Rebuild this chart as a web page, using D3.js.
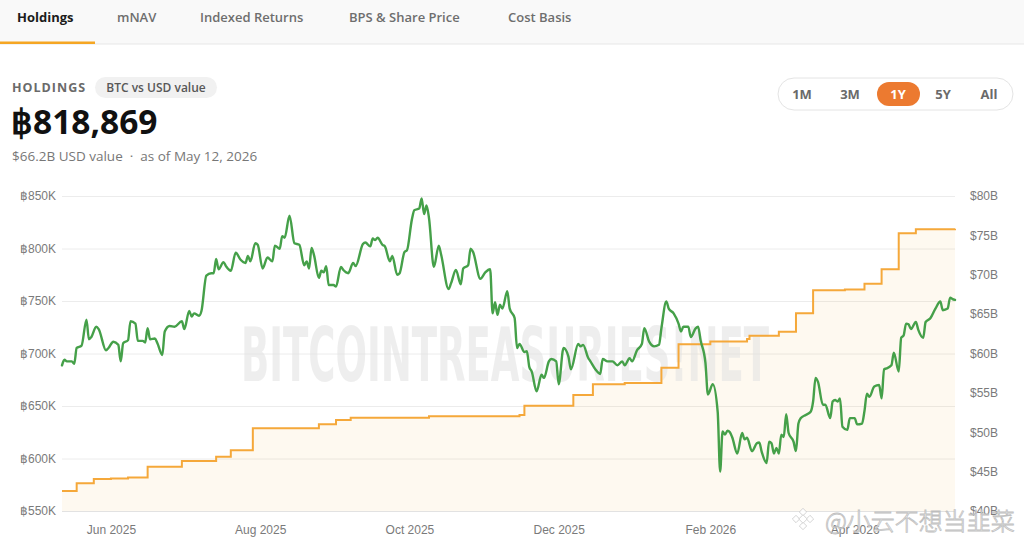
<!DOCTYPE html>
<html>
<head>
<meta charset="utf-8">
<script src="https://cdn.jsdelivr.net/npm/d3@7/dist/d3.min.js"></script>
<style>
  html, body { margin: 0; padding: 0; background: #ffffff; }
  svg { display: block; }
</style>
</head>
<body>
<svg id="chart" width="1024" height="545"></svg>
<script>
// ---------------- DATA ----------------
const START_DATE = "2025-05-12";
const END_DATE = "2026-05-12";

// USD value of holdings ($B), days since START_DATE
const priceDays = [0,1,2,4,5,6,8,10,11,12,14,15,18,19,21,23,24,25,27,28,30,31,33,34,35,36,38,39,41,42,44,46,49,50,52,53,54,56,57,59,61,62,63,64,66,67,69,71,73,75,76,77,79,80,82,84,86,87,89,90,91,93,95,97,99,100,101,102,103,105,106,107,108,109,111,112,114,115,117,119,120,123,124,126,127,128,129,131,132,134,135,137,138,140,141,143,144,146,147,148,149,150,152,154,155,158,159,161,163,164,166,167,168,171,173,175,176,177,178,179,180,182,183,185,186,187,189,190,191,192,194,196,197,199,200,202,203,205,207,208,211,212,213,215,216,218,220,221,223,225,227,229,230,232,233,235,237,238,240,242,244,245,247,248,250,252,253,254,256,257,259,260,261,263,264,266,268,269,270,271,272,273,274,276,278,279,280,282,284,285,286,288,289,290,291,292,293,294,295,296,297,299,300,301,302,304,306,307,308,309,311,312,314,315,316,317,318,319,321,322,324,325,327,328,329,330,332,334,335,336,337,339,340,342,343,344,345,346,347,349,350,352,353,355,357,359,360,362,363,364,365];
const usdValue = [58.5,59.2,59.0,59.0,58.7,60.7,61.0,64.3,61.8,62.1,63.4,63.1,60.4,60.7,61.5,61.1,59.0,61.3,61.7,64.1,63.8,61.6,61.6,61.4,63.2,61.8,61.9,61.3,59.8,62.8,63.5,63.4,64.1,63.1,65.4,64.7,65.1,64.8,65.4,69.9,70.2,70.2,72.0,70.7,71.6,71.1,70.5,72.8,71.9,71.5,72.4,71.7,74.0,73.8,70.8,72.2,71.7,73.7,73.3,74.9,74.7,77.5,74.0,73.8,71.2,71.7,70.8,73.4,72.5,69.6,70.5,70.3,71.1,68.7,68.7,68.5,71.0,70.6,70.2,71.5,71.1,73.9,74.1,73.6,74.6,74.4,74.7,73.8,73.6,71.7,72.4,70.0,70.2,72.9,73.1,77.0,78.2,78.4,79.7,77.7,78.8,77.2,71.0,73.7,72.5,68.2,68.9,70.6,68.8,70.8,71.2,73.3,72.9,69.5,70.3,70.7,65.1,66.5,64.9,66.2,65.7,67.9,65.7,64.5,60.7,61.2,60.2,60.3,58.3,57.7,55.2,57.3,56.9,59.0,59.3,59.0,56.1,60.7,59.6,58.0,61.2,60.9,61.1,59.5,59.0,58.0,57.4,59.3,59.0,59.0,58.5,59.0,58.5,59.4,59.0,60.4,61.2,63.2,61.5,60.9,61.1,63.2,66.6,65.7,65.1,63.8,62.8,63.4,63.4,62.1,63.2,63.4,61.7,58.8,54.8,56.1,52.6,45.0,50.1,49.7,50.2,50.0,49.3,47.3,49.9,49.1,49.3,47.6,48.6,48.7,47.5,46.1,48.8,48.6,47.3,48.0,47.3,49.7,49.4,52.3,49.9,48.8,47.6,51.1,51.8,52.2,52.6,53.9,56.9,56.4,53.5,53.5,51.8,53.9,54.1,53.9,54.3,50.7,50.3,51.8,51.8,51.0,51.1,52.7,54.9,54.5,55.8,56.0,54.3,58.0,58.1,58.5,60.1,57.7,62.0,62.3,63.8,63.7,63.1,64.0,63.0,62.0,64.0,64.5,65.7,66.6,65.5,65.7,67.1,66.9,66.8];

// BTC holdings (thousands of BTC), days since START_DATE
const holdDays = [0,6,13,20,27,35,49,63,69,78,105,112,118,150,187,189,209,217,230,245,252,265,280,281,293,300,307,320,328,335,342,349,365];
const holdBTC  = [569.0,576.4,580.5,581.0,582.0,592.2,597.6,601.7,607.8,628.7,632.6,636.7,638.9,640.2,641.4,650.3,660.5,670.7,672.0,686.5,708.8,711.5,713.8,717.0,720.8,738.3,760.2,761.0,766.5,780.2,814.5,818.3,818.9];

const leftTicks  = [550, 600, 650, 700, 750, 800, 850];
const rightTicks = [40, 45, 50, 55, 60, 65, 70, 75, 80];
const monthTicks = ["2025-06-01","2025-08-01","2025-10-01","2025-12-01","2026-02-01","2026-04-01"];

const tabs = ["Holdings", "mNAV", "Indexed Returns", "BPS & Share Price", "Cost Basis"];
const ranges = ["1M", "3M", "1Y", "5Y", "All"];

// ---------------- LAYOUT ----------------
const svg = d3.select("#chart");
const M = { left: 62, right: 955, top: 196, bottom: 511 };
const parse = d3.timeParse("%Y-%m-%d");
const start = parse(START_DATE);
const dayToDate = d => d3.timeDay.offset(start, d);

const x = d3.scaleTime().domain([start, parse(END_DATE)]).range([M.left, M.right]);
const yL = d3.scaleLinear().domain([550, 850]).range([M.bottom, M.top]);
const yR = d3.scaleLinear().domain([40, 80]).range([M.bottom, M.top]);

const UI = "'Open Sans', 'Noto Sans', sans-serif";
const AX = "'Liberation Sans', Arial, sans-serif";

// ---------------- HEADER ----------------
svg.append("rect").attr("x", 0).attr("y", 0).attr("width", 1024).attr("height", 44).attr("fill", "#f9f9f9");
svg.append("rect").attr("x", 0).attr("y", 43.5).attr("width", 1024).attr("height", 1).attr("fill", "#e8e8e8");
const tabX = [17, 117, 200, 349, 508];
tabs.forEach((t, i) => {
  svg.append("text").attr("x", tabX[i]).attr("y", 22)
    .attr("font-family", UI).attr("font-size", 13).attr("font-weight", i === 0 ? 700 : 600)
    .attr("fill", i === 0 ? "#1c1c1c" : "#6e6e6e").text(t);
});
svg.append("rect").attr("x", 0).attr("y", 41.5).attr("width", 95).attr("height", 2.5).attr("fill", "#f5a623");

svg.append("text").attr("x", 12).attr("y", 92).attr("font-family", UI).attr("font-size", 12.5)
  .attr("font-weight", 700).attr("letter-spacing", 1).attr("fill", "#6a6a6a").text("HOLDINGS");
svg.append("rect").attr("x", 95).attr("y", 77).attr("width", 122).attr("height", 21).attr("rx", 10.5).attr("fill", "#f1f1f1");
svg.append("text").attr("x", 156).attr("y", 92).attr("text-anchor", "middle").attr("font-family", UI)
  .attr("font-size", 12).attr("font-weight", 600).attr("fill", "#585858").text("BTC vs USD value");

svg.append("text").attr("x", 11).attr("y", 134).attr("font-family", UI).attr("font-size", 33.5)
  .attr("font-weight", 700).attr("fill", "#111").text("฿818,869");
svg.append("text").attr("x", 12).attr("y", 161).attr("font-family", UI).attr("font-size", 13.5)
  .style("white-space", "pre")
  .attr("fill", "#777").text("$66.2B USD value  ·  as of May 12, 2026");

svg.append("rect").attr("x", 778).attr("y", 78).attr("width", 235).attr("height", 32).attr("rx", 16)
  .attr("fill", "#fff").attr("stroke", "#e4e4e4");
svg.append("rect").attr("x", 877).attr("y", 82).attr("width", 43).attr("height", 24).attr("rx", 12).attr("fill", "#ec7a30");
const rangeX = [802, 850, 898, 943, 989];
ranges.forEach((r, i) => {
  svg.append("text").attr("x", rangeX[i]).attr("y", 99).attr("text-anchor", "middle")
    .attr("font-family", UI).attr("font-size", 13).attr("font-weight", 700)
    .attr("fill", r === "1Y" ? "#fff" : "#6a6a6a").text(r);
});

// ---------------- GRID & AXES ----------------
const grid = svg.append("g");
grid.selectAll("line").data(leftTicks).join("line")
  .attr("x1", M.left).attr("x2", M.right)
  .attr("y1", d => yL(d) + 0.5).attr("y2", d => yL(d) + 0.5)
  .attr("stroke", d => d === 550 ? "#e2e2e2" : "#ececec").attr("stroke-width", 1);

const leftAxis = svg.append("g").attr("transform", `translate(${M.left - 6},0)`)
  .call(d3.axisLeft(yL).tickValues(leftTicks).tickSize(0).tickPadding(0).tickFormat(d => "฿" + d + "K"));
const rightAxis = svg.append("g").attr("transform", `translate(${M.right + 15},0)`)
  .call(d3.axisRight(yR).tickValues(rightTicks).tickSize(0).tickPadding(0).tickFormat(d => "$" + d + "B"));
const bottomAxis = svg.append("g").attr("transform", `translate(0,${M.bottom + 14})`)
  .call(d3.axisBottom(x).tickValues(monthTicks.map(parse)).tickSize(0).tickPadding(0).tickFormat(d3.timeFormat("%b %Y")));
[leftAxis, rightAxis, bottomAxis].forEach(a => {
  a.select(".domain").remove();
  a.selectAll("text").attr("font-family", AX).attr("font-size", 12).attr("fill", "#7a7a7a");
});

// ---------------- HOLDINGS AREA ----------------
const holdings = holdDays.map((d, i) => ({ date: dayToDate(d), v: holdBTC[i] }));
const price = priceDays.map((d, i) => ({ date: dayToDate(d), v: usdValue[i] }));

svg.append("path").datum(holdings)
  .attr("d", d3.area().curve(d3.curveStepAfter).x(d => x(d.date)).y0(M.bottom).y1(d => yL(d.v)))
  .attr("fill", "#f7a833").attr("fill-opacity", 0.075);

// watermark
svg.append("text").attr("x", 241).attr("y", 381)
  .attr("font-family", "'DejaVu Sans Condensed', 'Liberation Sans Narrow', sans-serif")
  .attr("font-weight", 700).attr("font-size", 74)
  .attr("textLength", 528).attr("lengthAdjust", "spacingAndGlyphs")
  .attr("fill", "#e2e2e2").attr("fill-opacity", 0.6).text("BITCOINTREASURIES!NET");

svg.append("path").datum(holdings)
  .attr("d", d3.line().curve(d3.curveStepAfter).x(d => x(d.date)).y(d => yL(d.v)))
  .attr("fill", "none").attr("stroke", "#f5a83a").attr("stroke-width", 2);

svg.append("path").datum(price)
  .attr("d", d3.line().curve(d3.curveMonotoneX).x(d => x(d.date)).y(d => yR(d.v)))
  .attr("fill", "none").attr("stroke", "#45a049").attr("stroke-width", 2.4)
  .attr("stroke-linejoin", "round").attr("stroke-linecap", "round");

// ---------------- OVERLAY WATERMARK ----------------
const wm = svg.append("g").attr("opacity", 0.9);
const logo = wm.append("g").attr("transform", "translate(803,519)");
[[0,-7],[-7,0],[7,0],[0,7],[0,0]].forEach(([dx, dy], i) => {
  logo.append("rect").attr("x", dx - (i === 4 ? 3 : 2.6)).attr("y", dy - (i === 4 ? 3 : 2.6))
    .attr("width", i === 4 ? 6 : 5.2).attr("height", i === 4 ? 6 : 5.2)
    .attr("transform", `rotate(45 ${dx} ${dy})`)
    .attr("fill", "#fff").attr("stroke", "#c8c8c8").attr("stroke-width", 0.8);
});
wm.append("text").attr("x", 825).attr("y", 530)
  .attr("font-family", "'Noto Sans CJK SC', sans-serif").attr("font-size", 24).attr("font-weight", 300)
  .attr("fill", "#ffffff").attr("stroke", "#b9b9b9").attr("stroke-width", 0.8)
  .text("@小云不想当韭菜");
</script>
</body>
</html>
